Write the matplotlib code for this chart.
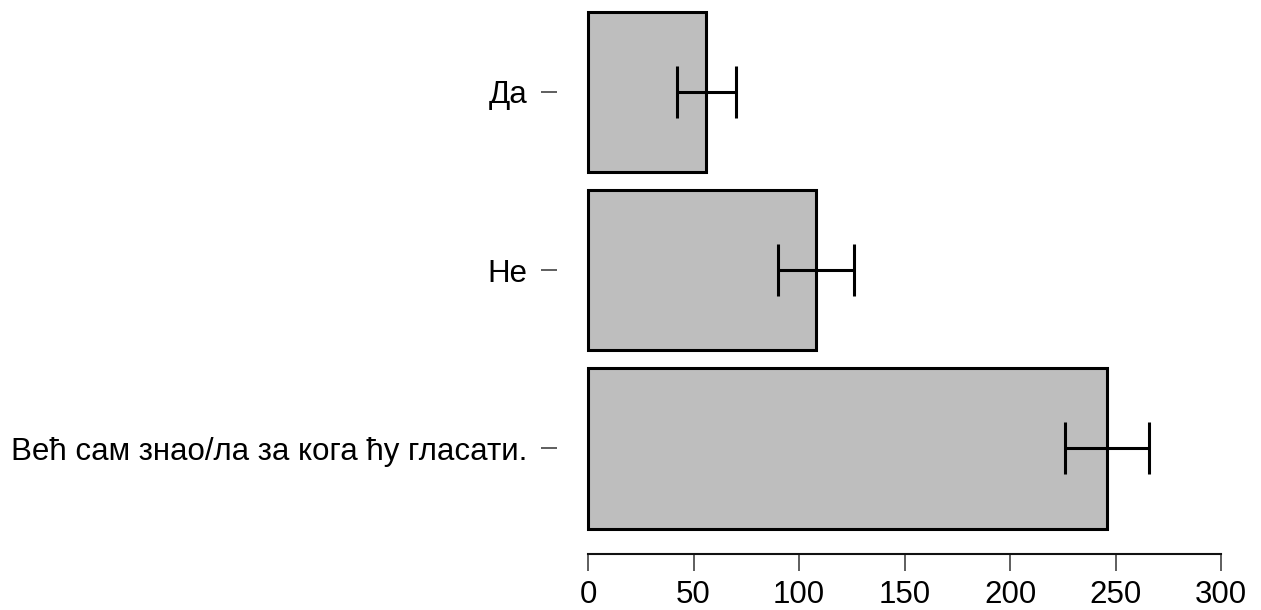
import matplotlib
matplotlib.use("Agg")
import matplotlib.pyplot as plt
import numpy as np

# Answers (bottom to top) with counts and half-width of the error bars
categories = ["Већ сам знао/ла за кога ћу гласати.", "Не", "Да"]
counts = [246, 108, 56]
errors = [20, 18, 14]
xticks = [0, 50, 100, 150, 200, 250, 300]

plt.rcParams["font.family"] = ["Liberation Sans", "DejaVu Sans"]

fig = plt.figure(figsize=(12.61, 6.10), dpi=100)
ax = fig.add_axes([588 / 1261, 70 / 610, 633 / 1261, 540 / 610])

y = np.arange(len(categories))
ax.barh(y, counts, height=0.9, color="#BEBEBE", edgecolor="black",
        linewidth=2.2, clip_on=False, zorder=2)
ax.errorbar(counts, y, xerr=errors, fmt="none", ecolor="black",
            elinewidth=2.2, capsize=18.7, capthick=2.2, zorder=3, clip_on=False)

ax.set_xlim(0, 300)
ax.set_ylim(-0.5144, 2.515)

ax.set_xticks(xticks)
ax.set_xticklabels([str(t) for t in xticks])
ax.set_yticks(y)
ax.set_yticklabels(categories)

for side in ("top", "right"):
    ax.spines[side].set_visible(False)
ax.spines["left"].set_position(("outward", 22.3))
ax.spines["left"].set_visible(False)
ax.spines["bottom"].set_position(("outward", 10.3))
ax.spines["bottom"].set_bounds(0, 300)
ax.spines["bottom"].set_linewidth(1.5)
ax.spines["bottom"].set_color("#111111")

ax.tick_params(axis="x", length=12.2, width=1.1, color="#333333",
               labelsize=22.5, pad=6.5)
ax.tick_params(axis="y", length=11.5, width=1.1, color="#333333",
               labelsize=22.5, pad=10)

fig.savefig("out.png", dpi=100)
